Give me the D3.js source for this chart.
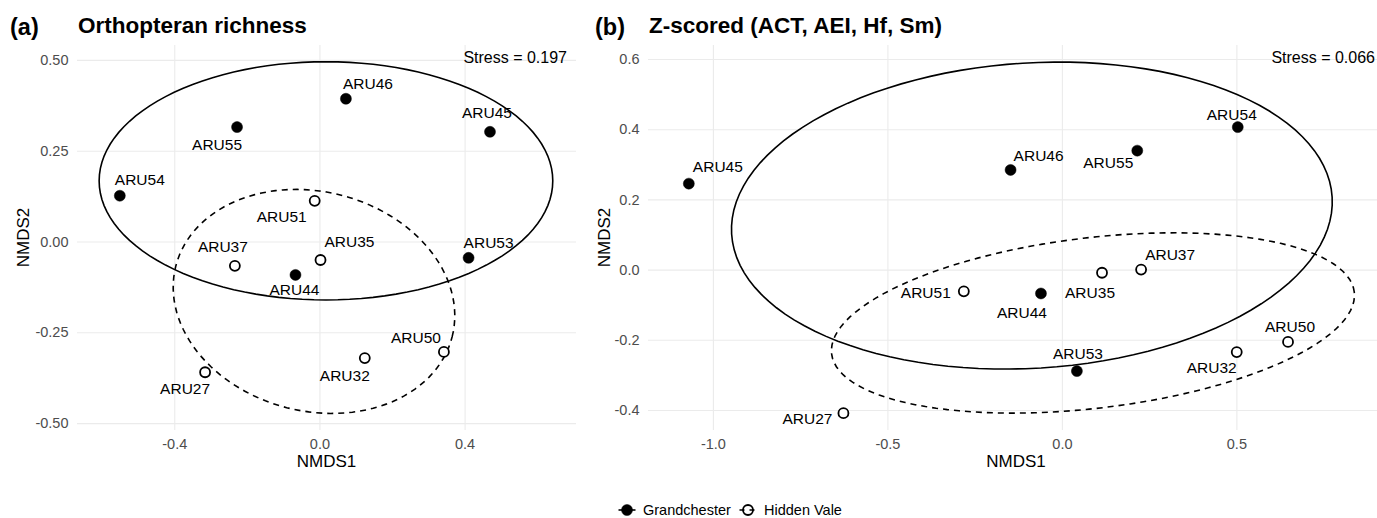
<!DOCTYPE html>
<html>
<head>
<meta charset="utf-8">
<script src="https://cdn.jsdelivr.net/npm/d3@7"></script>
<style>
  body { margin: 0; background: #fff; }
  text { font-family: "Liberation Sans", Arial, sans-serif; }
</style>
</head>
<body>
<script>
// ---- data ----
const groups = ["Grandchester", "Hidden Vale"]

// (a) Orthopteran richness
const sitesA = ["ARU46", "ARU45", "ARU55", "ARU54", "ARU44", "ARU53", "ARU51", "ARU37", "ARU35", "ARU50", "ARU32", "ARU27"]
const groupA = ["Grandchester", "Grandchester", "Grandchester", "Grandchester", "Grandchester", "Grandchester",
  "Hidden Vale", "Hidden Vale", "Hidden Vale", "Hidden Vale", "Hidden Vale", "Hidden Vale"]
const nmds1A = [0.073, 0.470, -0.227, -0.550, -0.066, 0.411, -0.013, -0.233, 0.003, 0.343, 0.125, -0.315]
const nmds2A = [0.393, 0.302, 0.315, 0.126, -0.092, -0.045, 0.112, -0.067, -0.051, -0.304, -0.321, -0.360]
const xTicksA = [-0.4, 0, 0.4]
const yTicksA = [-0.5, -0.25, 0, 0.25, 0.5]
// ellipse per group: centre, semi axes, rotation (deg)
const ellCxA = [0.018, -0.015]
const ellCyA = [0.167, -0.165]
const ellRxA = [0.625, 0.393]
const ellRyA = [0.328, 0.302]
const ellAngA = [0, -14.4]

// (b) Z-scored (ACT, AEI, Hf, Sm)
const sitesB = ["ARU45", "ARU46", "ARU55", "ARU54", "ARU44", "ARU53", "ARU37", "ARU35", "ARU51", "ARU50", "ARU32", "ARU27"]
const groupB = groupA
const nmds1B = [-1.069, -0.147, 0.216, 0.504, -0.060, 0.043, 0.227, 0.115, -0.281, 0.648, 0.501, -0.626]
const nmds2B = [0.245, 0.284, 0.339, 0.406, -0.068, -0.289, 0.000, -0.009, -0.062, -0.206, -0.235, -0.409]
const xTicksB = [-1, -0.5, 0, 0.5]
const yTicksB = [-0.4, -0.2, 0, 0.2, 0.4, 0.6]
const ellCxB = [-0.086, 0.089]
const ellCyB = [0.154, -0.152]
const ellRxB = [0.862, 0.754]
const ellRyB = [0.435, 0.243]
const ellAngB = [3.5, 6.7]

// label nudges in pixels (where the repel put them)
const nudgeA = {
  ARU46: [22, -15], ARU45: [-3, -19], ARU55: [-20, 17], ARU54: [20, -16], ARU44: [-1, 15], ARU53: [20, -15],
  ARU51: [-33, 16], ARU37: [-12, -19], ARU35: [29, -19], ARU50: [-28, -14], ARU32: [-20, 17], ARU27: [-20, 16]
}
const nudgeB = {
  ARU45: [29, -17], ARU46: [28, -15], ARU55: [-29, 12], ARU54: [-6, -13], ARU44: [-19, 19], ARU53: [1, -18],
  ARU37: [29, -15], ARU35: [-12, 20], ARU51: [-38, 1], ARU50: [2, -15], ARU32: [-25, 15], ARU27: [-36, 5]
}

const width = 1377
const height = 518
const loc = d3.formatLocale({ decimal: ".", thousands: ",", grouping: [3], currency: ["", ""], minus: "-" })

const svg = d3.select("body").append("svg")
  .attr("width", width)
  .attr("height", height)

svg.append("rect").attr("width", width).attr("height", height).attr("fill", "#fff")

function drawPanel(p) {
  const x = d3.scaleLinear().domain(p.xDomain).range([p.left, p.right])
  const y = d3.scaleLinear().domain(p.yDomain).range([p.bottom, p.top])
  const g = svg.append("g")

  // grid
  g.append("g")
    .attr("transform", `translate(0,${p.bottom})`)
    .call(d3.axisBottom(x).tickValues(p.xTicks).tickSize(-(p.bottom - p.top)).tickFormat(""))
    .call(a => a.select(".domain").remove())
    .call(a => a.selectAll("line").attr("stroke", "#ebebeb").attr("stroke-width", 1.1))
  g.append("g")
    .attr("transform", `translate(${p.left},0)`)
    .call(d3.axisLeft(y).tickValues(p.yTicks).tickSize(-(p.right - p.left)).tickFormat(""))
    .call(a => a.select(".domain").remove())
    .call(a => a.selectAll("line").attr("stroke", "#ebebeb").attr("stroke-width", 1.1))

  // tick labels
  g.append("g")
    .attr("transform", `translate(0,${p.bottom})`)
    .call(d3.axisBottom(x).tickValues(p.xTicks).tickSize(0).tickPadding(8.5).tickFormat(loc.format(p.xFmt)))
    .call(a => a.select(".domain").remove())
    .call(a => a.selectAll("text").attr("fill", "#4d4d4d").style("font-size", "14.5px"))
  g.append("g")
    .attr("transform", `translate(${p.left},0)`)
    .call(d3.axisLeft(y).tickValues(p.yTicks).tickSize(0).tickPadding(8.5).tickFormat(loc.format(p.yFmt)))
    .call(a => a.select(".domain").remove())
    .call(a => a.selectAll("text").attr("fill", "#4d4d4d").style("font-size", "14.5px"))

  // axis titles
  g.append("text")
    .attr("x", (p.left + p.right) / 2).attr("y", 467)
    .attr("text-anchor", "middle").style("font-size", "17px")
    .text("NMDS1")
  g.append("text")
    .attr("transform", `translate(${p.yTitleX},${(p.top + p.bottom) / 2}) rotate(-90)`)
    .attr("text-anchor", "middle").style("font-size", "17px")
    .text("NMDS2")

  // titles
  g.append("text").attr("x", p.tagX).attr("y", 35)
    .style("font-size", "23.5px").style("font-weight", "bold").text(p.tag)
  g.append("text").attr("x", p.titleX).attr("y", 33)
    .style("font-size", "22.5px").style("font-weight", "bold").text(p.title)

  // ellipses
  const line = d3.line().x(d => x(d[0])).y(d => y(d[1])).curve(d3.curveLinearClosed)
  groups.forEach((grp, i) => {
    const a = p.ang[i] * Math.PI / 180
    const pts = d3.range(120).map(k => {
      const t = k / 120 * 2 * Math.PI
      const dx = p.rx[i] * Math.cos(t)
      const dy = p.ry[i] * Math.sin(t)
      return [p.cx[i] + dx * Math.cos(a) - dy * Math.sin(a), p.cy[i] + dx * Math.sin(a) + dy * Math.cos(a)]
    })
    g.append("path")
      .attr("d", line(pts))
      .attr("fill", "none")
      .attr("stroke", "#000")
      .attr("stroke-width", 1.6)
      .attr("stroke-dasharray", grp === "Hidden Vale" ? "6,5" : null)
  })

  // points
  const data = p.sites.map((s, i) => ({ site: s, group: p.group[i], x: p.xs[i], y: p.ys[i] }))
  g.append("g").selectAll("circle")
    .data(data)
    .join("circle")
    .attr("cx", d => x(d.x))
    .attr("cy", d => y(d.y))
    .attr("r", d => d.group === "Grandchester" ? 5.5 : 5)
    .attr("fill", d => d.group === "Grandchester" ? "#000" : "#fff")
    .attr("stroke", "#000")
    .attr("stroke-width", d => d.group === "Grandchester" ? 0.5 : 1.8)

  // labels
  g.append("g").selectAll("text")
    .data(data)
    .join("text")
    .attr("x", d => x(d.x) + p.nudge[d.site][0])
    .attr("y", d => y(d.y) + p.nudge[d.site][1])
    .attr("dy", "0.36em")
    .attr("text-anchor", "middle")
    .style("font-size", "15.5px")
    .text(d => d.site)

  // stress
  g.append("text")
    .attr("x", p.right - 9).attr("y", 62.5)
    .attr("text-anchor", "end").style("font-size", "16px")
    .text(p.stress)
}

drawPanel({
  tag: "(a)", title: "Orthopteran richness", stress: "Stress = 0.197",
  sites: sitesA, group: groupA, xs: nmds1A, ys: nmds2A,
  xTicks: xTicksA, yTicks: yTicksA, xFmt: ".1f", yFmt: ".2f",
  cx: ellCxA, cy: ellCyA, rx: ellRxA, ry: ellRyA, ang: ellAngA,
  nudge: nudgeA,
  left: 77, right: 576, top: 45, bottom: 430,
  xDomain: [-0.668, 0.707], yDomain: [-0.519, 0.541],
  tagX: 10, titleX: 78, yTitleX: 28.5
})

drawPanel({
  tag: "(b)", title: "Z-scored (ACT, AEI, Hf, Sm)", stress: "Stress = 0.066",
  sites: sitesB, group: groupB, xs: nmds1B, ys: nmds2B,
  xTicks: xTicksB, yTicks: yTicksB, xFmt: ".1f", yFmt: ".1f",
  cx: ellCxB, cy: ellCyB, rx: ellRxB, ry: ellRyB, ang: ellAngB,
  nudge: nudgeB,
  left: 648, right: 1384, top: 45, bottom: 430,
  xDomain: [-1.186, 0.923], yDomain: [-0.457, 0.640],
  tagX: 595, titleX: 649, yTitleX: 610
})

// legend
const leg = svg.append("g").attr("transform", "translate(0,510)")
const legX = [627, 748]
groups.forEach((grp, i) => {
  const k = leg.append("g").attr("transform", `translate(${legX[i]},0)`)
  k.append("line")
    .attr("x1", -8.5).attr("x2", 8.5)
    .attr("stroke", "#000").attr("stroke-width", 1.6)
    .attr("stroke-dasharray", grp === "Hidden Vale" ? "5,5" : null)
  k.append("circle")
    .attr("r", grp === "Grandchester" ? 5.5 : 5)
    .attr("fill", grp === "Grandchester" ? "#000" : "none")
    .attr("stroke", "#000")
    .attr("stroke-width", grp === "Grandchester" ? 0.5 : 1.8)
  k.append("text")
    .attr("x", 16).attr("dy", "0.33em")
    .style("font-size", "14.5px")
    .text(grp)
})
</script>
</body>
</html>
